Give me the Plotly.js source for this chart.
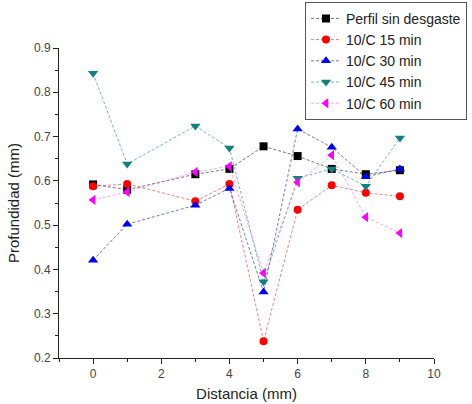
<!DOCTYPE html>
<html><head><meta charset="utf-8">
<script src="https://cdn.plot.ly/plotly-3.0.1.min.js"></script>
<style>html,body{margin:0;padding:0;background:#fff}#c{width:472px;height:404px}</style>
</head><body><div id="c"></div>
<script>
const distancia = [0, 1, 3, 4, 5, 6, 7, 8, 9];
const perfil = [0.592, 0.58, 0.615, 0.627, 0.678, 0.656, 0.627, 0.615, 0.624];
const c15 = [0.588, 0.593, 0.554, 0.593, 0.238, 0.535, 0.59, 0.573, 0.565];
const c30 = [0.421, 0.502, 0.545, 0.583, 0.349, 0.717, 0.676, 0.609, 0.627];
const c45 = [0.843, 0.638, 0.724, 0.674, 0.372, 0.606, 0.627, 0.588, 0.697];
const c60 = [0.557, 0.575, 0.62, 0.633, 0.392, 0.597, 0.658, 0.518, 0.482];
const names = ["Perfil sin desgaste", "10/C 15 min", "10/C 30 min", "10/C 45 min", "10/C 60 min"];

function tr(y, name, mcol, lcol, sym, size) {
  return {x: distancia, y: y, name: name, type: 'scatter', mode: 'lines+markers',
    marker: {color: mcol, symbol: sym, size: size},
    line: {color: lcol, width: 0.8, dash: '3px,2px'}};
}
const data = [
  tr(perfil, names[0], '#000000', 'rgba(40,40,40,0.8)', 'square', 8),
  tr(c15, names[1], '#ff0000', 'rgba(220,60,60,0.8)', 'circle', 8),
  tr(c30, names[2], '#0000ee', 'rgba(40,40,160,0.8)', 'triangle-up', 9),
  tr(c45, names[3], '#108080', 'rgba(40,140,140,0.8)', 'triangle-down', 9),
  tr(c60, names[4], '#ff00ff', 'rgba(230,120,230,0.8)', 'triangle-left', 9)
];
const layout = {
  width: 472, height: 404,
  margin: {l: 59, r: 38, t: 48, b: 46, autoexpand: false},
  paper_bgcolor: '#fff', plot_bgcolor: '#fff',
  font: {family: 'Arial, Liberation Sans, sans-serif', color: '#333'},
  showlegend: true,
  legend: {x: 0.656, y: 1.149, xanchor: 'left', yanchor: 'top',
    bordercolor: '#555', borderwidth: 1, bgcolor: '#fff',
    font: {size: 14, color: '#222'}, tracegroupgap: 0},
  xaxis: {range: [-1, 10], tickvals: [0, 2, 4, 6, 8, 10], showgrid: false, zeroline: false,
    showline: true, linecolor: '#222', linewidth: 1, ticks: 'outside', ticklen: 5, tickcolor: '#222',
    tickfont: {size: 12, color: '#444'},
    minor: {tickvals: [-1, 1, 3, 5, 7, 9], ticks: 'outside', ticklen: 3, tickcolor: '#222', showgrid: false},
    title: {text: 'Distancia (mm)', font: {size: 15, color: '#222'}, standoff: 8}},
  yaxis: {range: [0.2, 0.9], dtick: 0.1, tickformat: '.1f', showgrid: false, zeroline: false,
    showline: true, linecolor: '#222', linewidth: 1, ticks: 'outside', ticklen: 5, tickcolor: '#222',
    tickfont: {size: 12, color: '#444'},
    minor: {dtick: 0.05, ticks: 'outside', ticklen: 3, tickcolor: '#222', showgrid: false},
    title: {text: 'Profundidad (mm)', font: {size: 15, color: '#222'}, standoff: 10}}
};
Plotly.newPlot('c', data, layout, {displayModeBar: false});
</script></body></html>
